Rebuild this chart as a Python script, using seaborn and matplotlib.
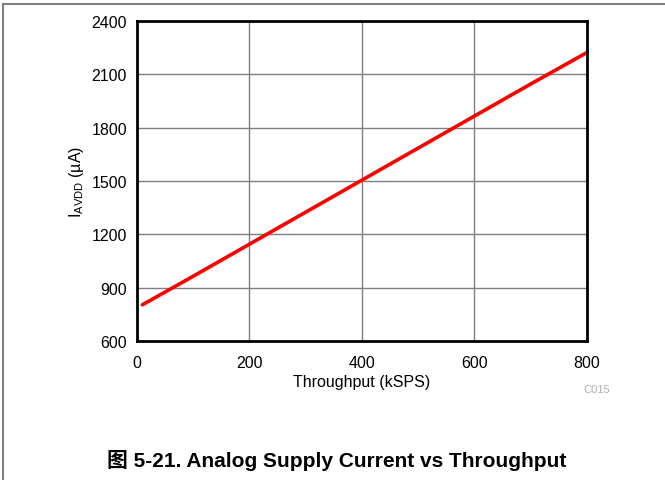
import pandas as pd
import seaborn as sns
import matplotlib.pyplot as plt
from matplotlib.patches import Rectangle

# Throughput (kSPS) vs analog supply current (uA)
throughput = [10, 100, 200, 300, 400, 500, 600, 700, 800]
iavdd = [805, 965, 1145, 1325, 1505, 1685, 1865, 2045, 2222]

xticks = [0, 200, 400, 600, 800]
yticks = [600, 900, 1200, 1500, 1800, 2100, 2400]

sns.set_style('white')
plt.rcParams['font.family'] = ['Liberation Sans', 'Noto Sans CJK SC', 'DejaVu Sans']
plt.rcParams['mathtext.fontset'] = 'custom'
plt.rcParams['mathtext.rm'] = 'Liberation Sans'
plt.rcParams['text.color'] = 'black'
plt.rcParams['axes.labelcolor'] = 'black'

data = pd.DataFrame({'Throughput': throughput, 'IAVDD': iavdd})

fig = plt.figure(figsize=(6.65, 4.81), dpi=100)
ax = fig.add_axes([0.2056, 0.2884, 0.6767, 0.666])

sns.lineplot(data=data, x='Throughput', y='IAVDD', color='#ff0000', linewidth=2.6, ax=ax)

ax.set_xlim(0, 800)
ax.set_ylim(600, 2400)
ax.set_xticks(xticks)
ax.set_yticks(yticks)
ax.grid(True, color='#7f7f7f', linewidth=1.0)
ax.set_axisbelow(True)
for s in ax.spines.values():
    s.set_color('black')
    s.set_linewidth(2.0)
ax.tick_params(length=0, labelsize=11.5, colors='black')
ax.tick_params(axis='y', pad=7)
ax.tick_params(axis='x', pad=10)

ax.set_xlabel('Throughput (kSPS)', fontsize=11.5, labelpad=3)
ax.set_ylabel(r'I$_{\mathregular{AVDD}}$ (µA)', fontsize=11.5, labelpad=4)

fig.text(0.877, 0.189, 'C015', fontsize=8, color='#b0b0b0', ha='left', va='center')
fig.text(0.507, 0.043, '图 5-21. Analog Supply Current vs Throughput',
         fontsize=15, fontweight='bold', ha='center', va='center')

# outer frame of the figure box
fig.patches.append(Rectangle((0.0045, -0.01), 1.2, 1.0 - 0.0104 + 0.01,
                             transform=fig.transFigure, fill=False,
                             edgecolor='#808080', linewidth=1.5))

fig.savefig('out.png', dpi=100)
